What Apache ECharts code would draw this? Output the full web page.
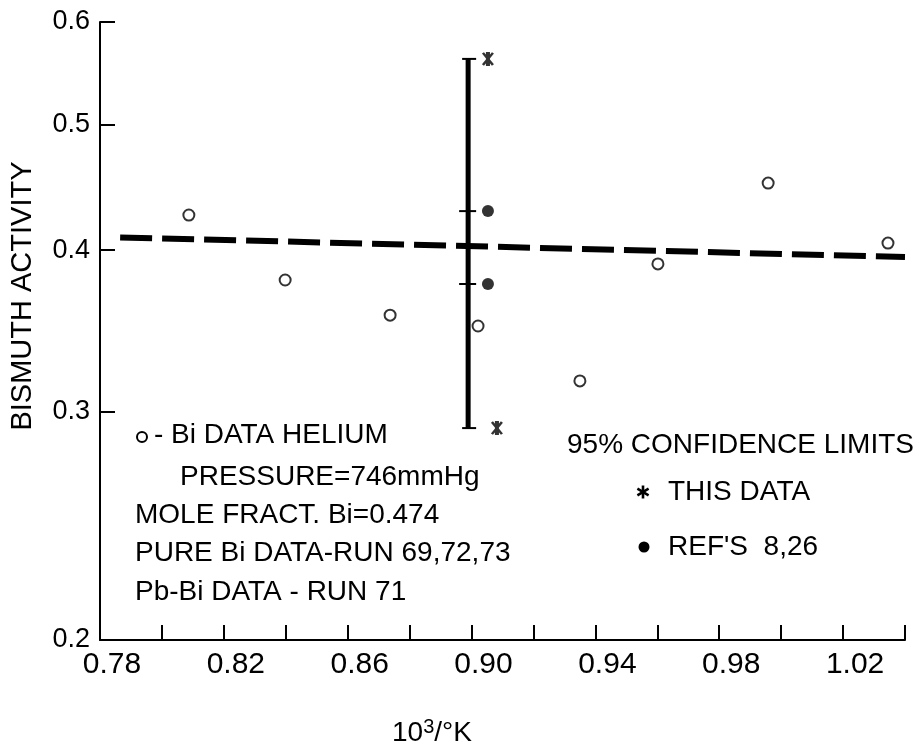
<!DOCTYPE html>
<html>
<head>
<meta charset="utf-8">
<script src="https://cdn.jsdelivr.net/npm/echarts@6/dist/echarts.min.js"></script>
<style>
  html, body { margin: 0; padding: 0; background: #fff; }
  #main { width: 924px; height: 751px; }
</style>
</head>
<body>
<div id="main"></div>
<script>
// data
var heliumData = [
    [0.8087, 0.4257], [0.8398, 0.3793], [0.8737, 0.3563], [0.9021, 0.3495],
    [0.9350, 0.3170], [0.9602, 0.3903], [0.9958, 0.4506], [1.0345, 0.4050]
];
var refData = [[0.9053, 0.4287], [0.9053, 0.3766]];
var thisData = [[0.9053, 0.5619], [0.9082, 0.2915]];
// x, upper, lower, ref tick 1, ref tick 2
var confBar = [[0.8989, 0.5619, 0.2915, 0.4287, 0.3766]];
var fitLine = [[0.7865, 0.4091], [1.04, 0.3951]];
var yTicks = [0.2, 0.3, 0.4, 0.5, 0.6];

var FONT = '"Liberation Sans", Arial, sans-serif';
// six armed star, all three bars wound the same way
var asterisk = 'path://M-1.3,-6L1.3,-6L1.3,6L-1.3,6Z' +
    'M-3.846,-4.546L-2.546,-5.796L3.846,4.546L2.546,5.796Z' +
    'M2.546,-5.796L3.846,-4.546L-2.546,5.796L-3.846,4.546Z';

var myChart = echarts.init(document.getElementById('main'));

function errBar(params, api) {
    var top = api.coord([api.value(0), api.value(1)]);
    var bot = api.coord([api.value(0), api.value(2)]);
    var t1 = api.coord([api.value(0), api.value(3)]);
    var t2 = api.coord([api.value(0), api.value(4)]);
    var thin = { stroke: '#000', lineWidth: 2 };
    return {
        type: 'group',
        children: [
            { type: 'line', shape: { x1: top[0], y1: top[1], x2: bot[0], y2: bot[1] }, style: { stroke: '#000', lineWidth: 5 } },
            { type: 'line', shape: { x1: top[0] - 6, y1: top[1], x2: top[0] + 8, y2: top[1] }, style: thin },
            { type: 'line', shape: { x1: bot[0] - 6, y1: bot[1], x2: bot[0] + 8, y2: bot[1] }, style: thin },
            { type: 'line', shape: { x1: t1[0] - 9, y1: t1[1], x2: t1[0] + 8, y2: t1[1] }, style: thin },
            { type: 'line', shape: { x1: t2[0] - 9, y1: t2[1], x2: t2[0] + 8, y2: t2[1] }, style: thin }
        ]
    };
}

function txt(x, y, s) {
    return { type: 'text', x: x, y: y, style: { text: s, font: '28px ' + FONT, fill: '#000', verticalAlign: 'middle' } };
}

// small asterisk key for the legend text
function starKey(cx, cy) {
    var st = { stroke: '#000', lineWidth: 2.6 };
    return {
        type: 'group', x: cx, y: cy,
        children: [
            { type: 'line', shape: { x1: 0, y1: -6.5, x2: 0, y2: 6.5 }, style: st },
            { type: 'line', shape: { x1: -5.6, y1: -3.3, x2: 5.6, y2: 3.3 }, style: st },
            { type: 'line', shape: { x1: -5.6, y1: 3.3, x2: 5.6, y2: -3.3 }, style: st }
        ]
    };
}

var option = {
    animation: false,
    backgroundColor: '#fff',
    grid: { left: 100, right: 19, top: 22, bottom: 111, outerBoundsMode: 'none' },
    xAxis: {
        type: 'value',
        min: 0.78,
        max: 1.04,
        interval: 0.02,
        axisLine: { lineStyle: { color: '#000', width: 2 } },
        axisTick: { inside: true, length: 15, lineStyle: { color: '#000', width: 2 } },
        axisLabel: {
            color: '#000', fontSize: 30, fontFamily: FONT, margin: 10,
            padding: [0, 0, 0, 24],
            formatter: function (v) {
                return Math.round(v * 100) % 4 === 2 ? v.toFixed(2) : '';
            }
        },
        splitLine: { show: false }
    },
    yAxis: {
        type: 'log',
        min: 0.2,
        max: 0.6,
        axisLine: { lineStyle: { color: '#000', width: 2 } },
        axisTick: { inside: true, length: 15, customValues: yTicks, lineStyle: { color: '#000', width: 2 } },
        axisLabel: {
            color: '#000', fontSize: 27, fontFamily: FONT, margin: 10,
            customValues: yTicks,
            formatter: function (v) { return (+v).toFixed(1); }
        },
        minorTick: { show: false },
        splitLine: { show: false }
    },
    series: [
        {
            type: 'custom',
            renderItem: errBar,
            encode: { x: 0, y: [1, 2] },
            data: confBar,
            silent: true
        },
        {
            type: 'line',
            data: fitLine,
            symbol: 'none',
            lineStyle: { color: '#000', width: 6, type: [32, 10], cap: 'butt' },
            silent: true
        },
        {
            type: 'scatter',
            data: heliumData,
            symbol: 'circle',
            symbolSize: 11,
            itemStyle: { color: '#fff', borderColor: '#000', borderWidth: 2 },
            silent: true
        },
        {
            type: 'scatter',
            data: refData,
            symbol: 'circle',
            symbolSize: 12,
            itemStyle: { color: '#000' },
            silent: true
        },
        {
            type: 'scatter',
            data: thisData,
            symbol: asterisk,
            symbolSize: [12, 14],
            itemStyle: { color: '#000' },
            silent: true
        }
    ],
    graphic: [
        {
            type: 'text', x: 23, y: 296, rotation: Math.PI / 2,
            style: { text: 'BISMUTH ACTIVITY', font: '29px ' + FONT, fill: '#000', align: 'center', verticalAlign: 'middle' }
        },
        {
            type: 'text', x: 392, y: 733,
            style: {
                text: '10{s|3}/°K', font: '28px ' + FONT, fill: '#000', verticalAlign: 'middle',
                rich: { s: { fontSize: 20, verticalAlign: 'top', padding: [0, 0, 12, 0] } }
            }
        },
        { type: 'circle', shape: { cx: 142, cy: 437, r: 5 }, style: { fill: '#fff', stroke: '#000', lineWidth: 2 } },
        txt(154, 435, '- Bi DATA HELIUM'),
        txt(180, 477, 'PRESSURE=746mmHg'),
        txt(135, 515, 'MOLE FRACT. Bi=0.474'),
        txt(135, 553, 'PURE Bi DATA-RUN 69,72,73'),
        txt(135, 592, 'Pb-Bi DATA - RUN 71'),
        txt(567, 445, '95% CONFIDENCE LIMITS'),
        starKey(643, 492),
        txt(668, 492, 'THIS DATA'),
        { type: 'circle', shape: { cx: 644, cy: 547, r: 5.5 }, style: { fill: '#000' } },
        txt(668, 547, "REF'S  8,26")
    ]
};

myChart.setOption(option);
</script>
</body>
</html>
